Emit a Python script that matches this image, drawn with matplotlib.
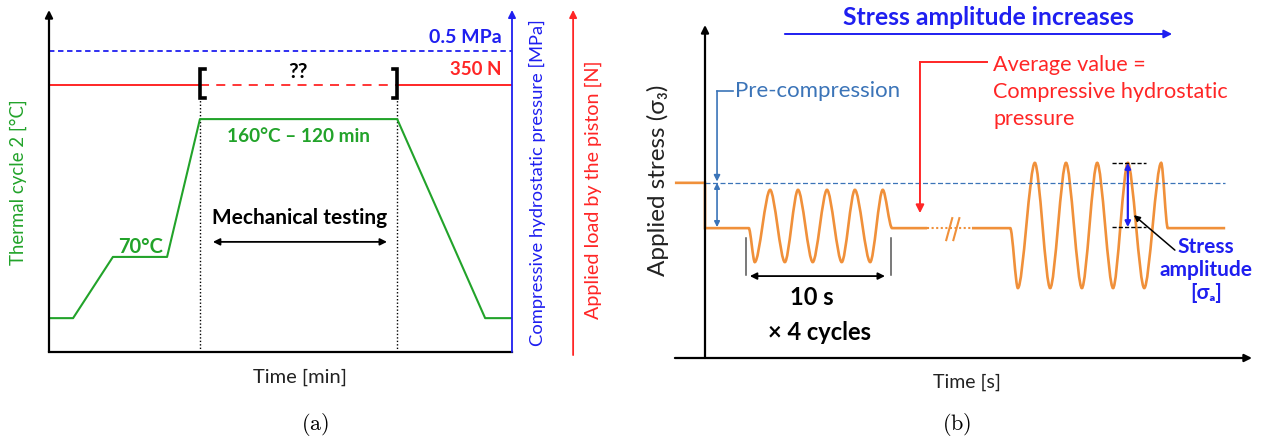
import matplotlib.pyplot as plt
from matplotlib.path import Path
from matplotlib.patches import PathPatch

plt.rcParams['font.family'] = ['Lato', 'DejaVu Sans']
plt.rcParams['mathtext.fontset'] = 'cm'

GREEN = '#22a32a'
BLUE = '#1f1ff0'
RED = '#ff2626'
ORANGE = '#f0903a'
STEEL = '#3b74b8'

# ---- panel (a): thermal cycle 2, schematic units (0-100 on both axes)
thermal_time = [0, 5.2, 13.8, 25.5, 32.6, 75.2, 94.2, 100]
thermal_temp = [9.9, 9.9, 27.8, 27.8, 68.1, 68.1, 9.9, 9.9]
pressure_level = 88.0      # 0.5 MPa
load_level = 78.1          # 350 N
test_window = [32.6, 75.2]  # mechanical testing

# ---- panel (b): applied stress signal, schematic units
pre_level = 52.6
mean_level = 39.0
small_time = [-5.5, 0, 0, 8.0, 9.1, 11.9, 14.6, 17.0, 19.7, 22.3, 25.0, 27.4,
              30.2, 32.5, 34.2, 40.6]
small_stress = [pre_level, pre_level, mean_level, mean_level, 28.8, 50.5, 28.8, 50.5,
                28.8, 50.5, 28.8, 50.5, 28.8, 50.5, mean_level, mean_level]
gap_time = [40.6, 48.8]
large_time = [48.8, 55.8, 57.2, 60.3, 63.1, 66.0, 68.9, 71.7, 74.6, 77.3, 80.3,
              83.4, 84.6, 95.1]
large_stress = [mean_level, mean_level, 21.0, 58.6, 21.0, 58.6, 21.0, 58.6, 21.0,
                58.6, 21.0, 58.6, mean_level, mean_level]
amp_top, amp_bottom = 58.6, 39.3


def place(l, t, r, b):
    return [l / 1272, 1 - b / 444, (r - l) / 1272, (b - t) / 444]


def arrow(ax, start, end, color, style='-|>', lw=1.3, ms=11):
    ax.annotate('', xy=end, xytext=start, annotation_clip=False,
                arrowprops=dict(arrowstyle=style, color=color, lw=lw,
                                mutation_scale=ms, shrinkA=0, shrinkB=0))


def wave(ax, t, s, k=0.3, **kw):
    # join the turning points with smooth bezier flanks
    verts = [(t[0], s[0])]
    codes = [Path.MOVETO]
    for i in range(1, len(t)):
        t0, s0, t1, s1 = t[i - 1], s[i - 1], t[i], s[i]
        if s0 == s1 or t0 == t1:
            verts.append((t1, s1))
            codes.append(Path.LINETO)
        else:
            dt = t1 - t0
            verts += [(t0 + k * dt, s0), (t1 - k * dt, s1), (t1, s1)]
            codes += [Path.CURVE4] * 3
    ax.add_patch(PathPatch(Path(verts, codes), fill=False, clip_on=False, **kw))


fig = plt.figure(figsize=(12.72, 4.44), dpi=100)

# ================= (a) =================
ax = fig.add_axes(place(49, 10, 512, 352))
ax.set_xlim(0, 100)
ax.set_ylim(0, 100)
ax.axis('off')

# axes frame
arrow(ax, (0, 0), (0, 100), 'black', lw=1.6)
ax.plot([0, 100], [0, 0], color='black', lw=1.6, clip_on=False)
arrow(ax, (100, 0), (100, 100), BLUE, lw=1.3)
arrow(ax, (113.2, -0.9), (113.2, 100), RED, lw=1.3)

# pressure and load levels
ax.plot([0, 100], [pressure_level] * 2, color=BLUE, lw=1.3, ls=(0, (3, 2)))
ax.plot([0, test_window[0]], [load_level] * 2, color=RED, lw=1.4)
ax.plot(test_window, [load_level] * 2, color=RED, lw=1.3, ls=(0, (5, 4)))
ax.plot([test_window[1], 100], [load_level] * 2, color=RED, lw=1.4)

# brackets and testing window
for x, d in [(test_window[0], 1.0), (test_window[1], -1.0)]:
    ax.plot([x + d, x, x, x + d], [82.7, 82.7, 74.3, 74.3], color='black', lw=2.6,
            solid_joinstyle='miter')
    ax.plot([x, x], [0, 74.3], color='black', lw=1.0, ls=(0, (1, 1.5)))

ax.plot(thermal_time, thermal_temp, color=GREEN, lw=1.5)

ax.text(97.8, 92.1, '0.5 MPa', color=BLUE, fontsize=14, fontweight='bold',
        ha='right', va='center')
ax.text(97.8, 82.5, '350 N', color=RED, fontsize=13.5, fontweight='bold',
        ha='right', va='center')
ax.text(53.8, 81.9, '??', color='black', fontsize=15, fontweight='bold',
        ha='center', va='center')
ax.text(53.8, 62.9, '160°C – 120 min', color=GREEN, fontsize=13.7, fontweight='bold',
        ha='center', va='center')
ax.text(19.7, 30.7, '70°C', color=GREEN, fontsize=14.5, fontweight='bold',
        ha='center', va='center')
ax.text(54.2, 39.2, 'Mechanical testing', color='black', fontsize=15,
        fontweight='bold', ha='center', va='center')
arrow(ax, (35.4, 32.2), (73.0, 32.2), 'black', style='<|-|>', lw=1.3, ms=10)

ax.text(54.2, -7.3, 'Time [min]', fontsize=14.5, ha='center', va='center',
        color='#222222')
ax.text(-6.7, 49.7, 'Thermal cycle 2 [°C]', color=GREEN, fontsize=13.4,
        rotation=90, ha='center', va='center')
ax.text(105.4, 49.4, 'Compressive hydrostatic pressure [MPa]', color=BLUE,
        fontsize=13.2, rotation=90, ha='center', va='center')
ax.text(117.5, 47.4, 'Applied load by the piston [N]', color=RED,
        fontsize=14.2, rotation=90, ha='center', va='center')
ax.text(57.5, -21.3, r'$\mathrm{(a)}$', fontsize=16, ha='center', va='center')

# ================= (b) =================
bx = fig.add_axes(place(705, 25, 1252, 358))
bx.set_xlim(0, 100)
bx.set_ylim(0, 100)
bx.axis('off')

arrow(bx, (0, 0), (0, 100), 'black', lw=1.6)
arrow(bx, (-5.5, 0), (100, 0), 'black', lw=1.6)

bx.plot([0, 95.1], [pre_level] * 2, color=STEEL, lw=0.9, ls=(0, (4, 2)))
wave(bx, small_time, small_stress, edgecolor=ORANGE, lw=1.9)
bx.plot(gap_time, [mean_level] * 2, color=ORANGE, lw=1.5, ls=(0, (1, 1.2)))
for x0 in [44.1, 45.4]:
    bx.plot([x0, x0 + 1.1], [35.4, 42.0], color=ORANGE, lw=1.5)
wave(bx, large_time, large_stress, edgecolor=ORANGE, lw=1.9)

# pre-compression marker
bx.plot([2.2, 5.1], [80.2, 80.2], color=STEEL, lw=1.2)
arrow(bx, (2.2, 80.2), (2.2, pre_level + 0.4), STEEL, lw=1.2, ms=9)
arrow(bx, (2.2, pre_level), (2.2, mean_level + 0.3), STEEL, style='<|-|>', lw=1.2, ms=8)
bx.text(5.5, 80.2, 'Pre-compression', color=STEEL, fontsize=16, ha='left',
        va='center')

# stress amplitude increases
bx.text(51.9, 102.4, 'Stress amplitude increases', color=BLUE, fontsize=17.8,
        fontweight='bold', ha='center', va='center')
arrow(bx, (14.6, 97.3), (85.4, 97.3), BLUE, lw=1.4, ms=12)

# average value
bx.plot([39.3, 51.6], [88.9, 88.9], color=RED, lw=1.4)
arrow(bx, (39.3, 88.9), (39.3, 43.5), RED, lw=1.4, ms=12)
bx.text(52.7, 79.9, 'Average value =\nCompressive hydrostatic\npressure', color=RED,
        fontsize=15.6, ha='left', va='center', linespacing=1.45)

# stress amplitude marker
bx.plot([74.4, 80.6], [amp_top] * 2, color='black', lw=1.0, ls=(0, (3, 1.5)))
bx.plot([74.4, 80.6], [amp_bottom] * 2, color='black', lw=1.0, ls=(0, (3, 1.5)))
arrow(bx, (77.3, amp_top), (77.3, amp_bottom), BLUE, style='<|-|>', lw=1.6, ms=8)
arrow(bx, (85.9, 32.4), (78.4, 42.9), 'black', lw=1.1, ms=9)
bx.text(91.6, 26.5, 'Stress\namplitude\n[σₐ]', color=BLUE, fontsize=15,
        fontweight='bold', ha='center', va='center', linespacing=1.2)

# 10 s window
for x in [7.5, 34.0]:
    bx.plot([x, x], [24.9, 36.0], color='#555555', lw=1.1)
arrow(bx, (8.2, 24.6), (32.9, 24.6), 'black', style='<|-|>', lw=1.3, ms=10)
bx.text(19.6, 18.3, '10 s', fontsize=17, fontweight='bold', ha='center', va='center')
bx.text(21.0, 7.8, '× 4 cycles', fontsize=17, fontweight='bold', ha='center',
        va='center')

bx.text(-8.6, 53.5, 'Applied stress (σ₃)', fontsize=17.5, rotation=90, ha='center',
        va='center', color='#222222')
bx.text(47.9, -7.2, 'Time [s]', fontsize=14, ha='center', va='center',
        color='#222222')
bx.text(46.1, -20.1, r'$\mathrm{(b)}$', fontsize=16, ha='center', va='center')

fig.savefig('out.png', dpi=100)
